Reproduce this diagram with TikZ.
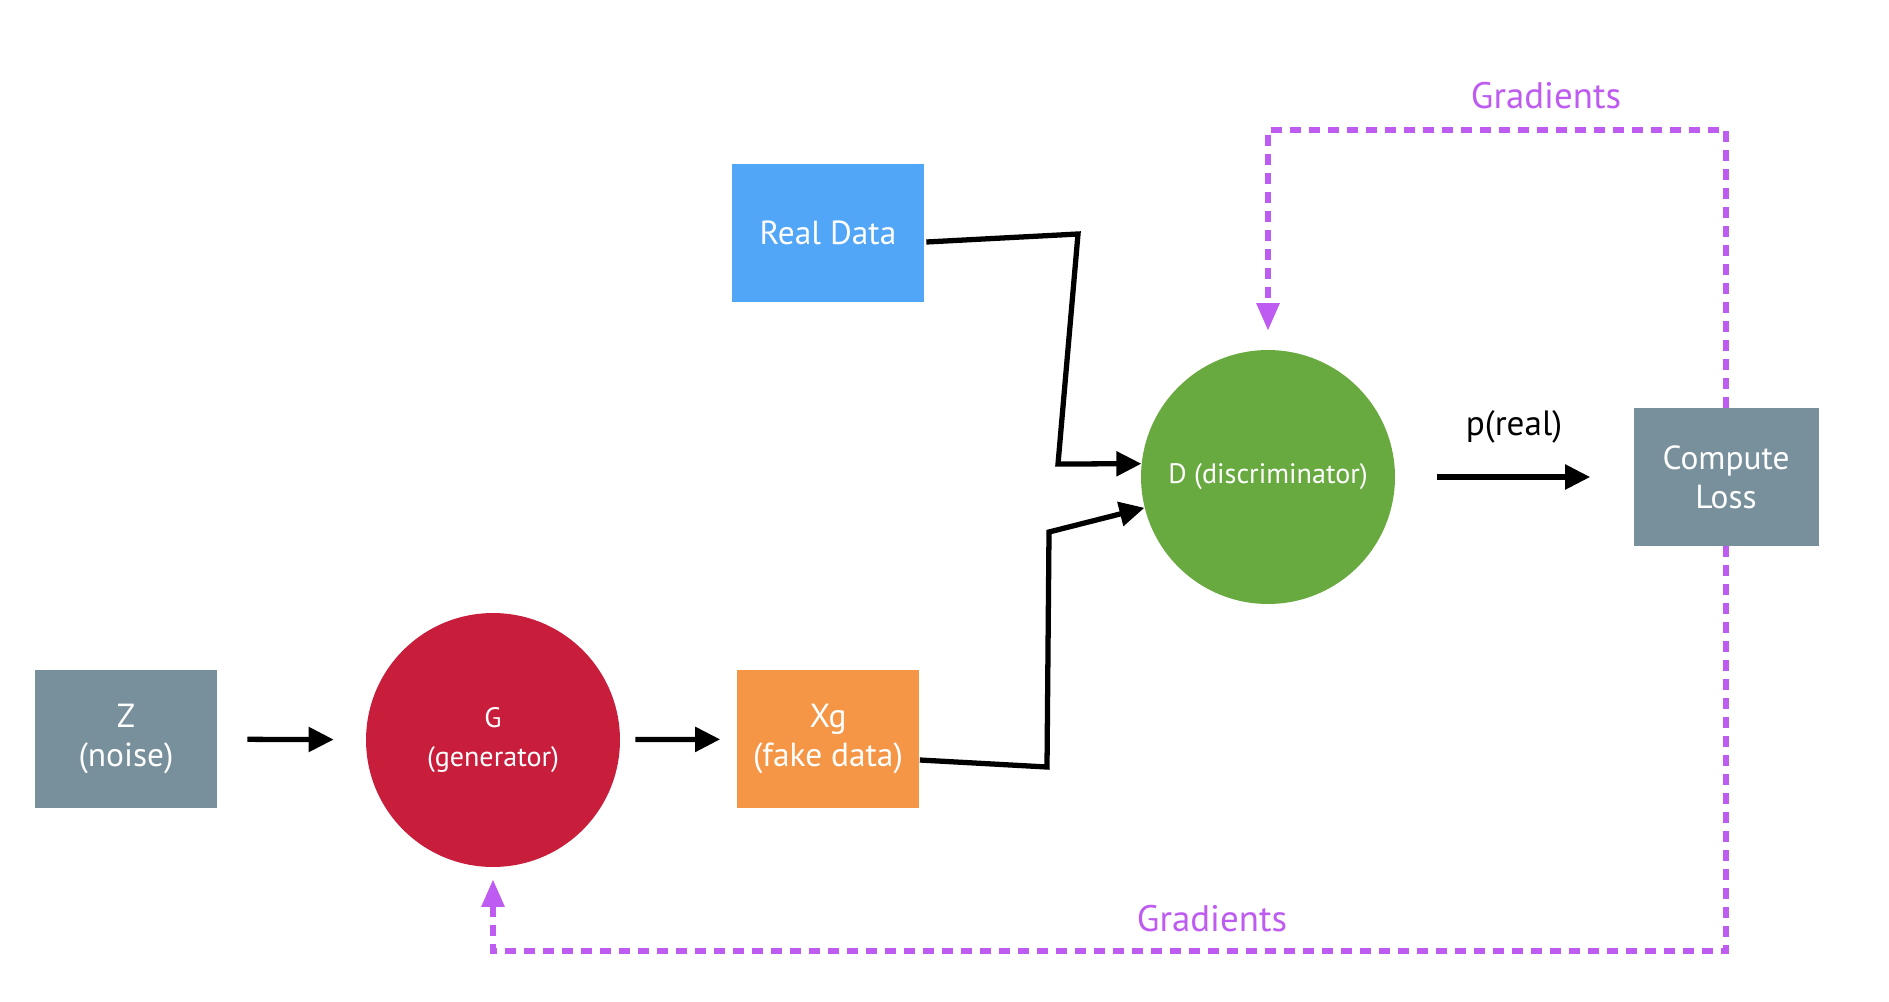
\documentclass[tikz,border=0pt]{standalone}
\usepackage{fontspec}
\setmainfont{PT Sans}
\usetikzlibrary{calc,arrows.meta}
\definecolor{boxgray}{HTML}{78909B}
\definecolor{realblue}{HTML}{52A6F7}
\definecolor{genred}{HTML}{C81E3C}
\definecolor{fakeorange}{HTML}{F59646}
\definecolor{discgreen}{HTML}{68AA40}
\definecolor{gradpurple}{HTML}{BE5BF0}
\tikzset{
	box/.style={rectangle, inner sep=0pt, text=white, align=center, font=\fontsize{19}{22}\selectfont},
	ball/.style={circle, inner sep=0pt, minimum size=5.08cm, text=white, align=center, font=\fontsize{16}{22}\selectfont},
	arr/.style={line width=3pt, -{Triangle[length=0.5cm, width=0.48cm]}},
	grad/.style={gradpurple, line width=3.2pt, dash pattern=on 0.22cm off 0.16cm, -{Triangle[length=0.55cm, width=0.44cm]}},
	gradlabel/.style={text=gradpurple, font=\fontsize{21}{24}\selectfont}
}

\begin{document}
\begin{tikzpicture}[x=0.02cm, y=-0.02cm]
				%%%%% START %%%%%
				\useasboundingbox (0, 0) rectangle (1889, 1001);
				
				\node[box, fill=boxgray, minimum width=3.64cm, minimum height=2.76cm] (z) at (126, 739) {Z\\(noise)};
				\node[ball, fill=genred] (g) at (493, 740) {G\\(generator)};
				\node[box, fill=fakeorange, minimum width=3.66cm, minimum height=2.76cm] (xg) at (828, 739) {Xg\\(fake data)};
				\node[box, fill=realblue, minimum width=3.84cm, minimum height=2.76cm] (real) at (828, 233) {Real Data};
				\node[ball, fill=discgreen] (d) at (1268, 477) {D (discriminator)};
				\node[box, fill=boxgray, minimum width=3.7cm, minimum height=2.76cm] (loss) at (1726, 477) {Compute\\Loss};
				
				\draw[arr, shorten <=0.6cm, shorten >=0.64cm] (z) -- (g);
				\draw[arr, shorten <=0.3cm, shorten >=0.32cm] (g) -- (xg);
				\draw[arr, shorten <=0.84cm, shorten >=0.86cm] (d) -- (loss);
				\node[font=\fontsize{20}{24}\selectfont] (preal) at (1514, 427) {p(real)};
				
				\draw[arr, line join=miter] ($(real.east)+(2, 9)$) -- (1078, 234) -- (1058, 464) -- (d.174);
				\draw[arr, line join=miter] ($(xg.east)+(0, 21)$) -- (1047, 767) -- (1049, 532) -- (d.194);
				
				\coordinate (gtop) at (1268, 130);
				\coordinate (gbot) at (493, 951);
				\draw[grad, shorten >=0.38cm] (loss.north) |- (gtop) -- (d.north);
				\draw[grad, shorten >=0.24cm] (loss.south) |- (gbot) -- (g.south);
				\node[gradlabel] (gradtop) at (1546, 96) {Gradients};
				\node[gradlabel] (gradbot) at (1212, 919) {Gradients};
				%%%%% END %%%%%
\end{tikzpicture}
\end{document}
